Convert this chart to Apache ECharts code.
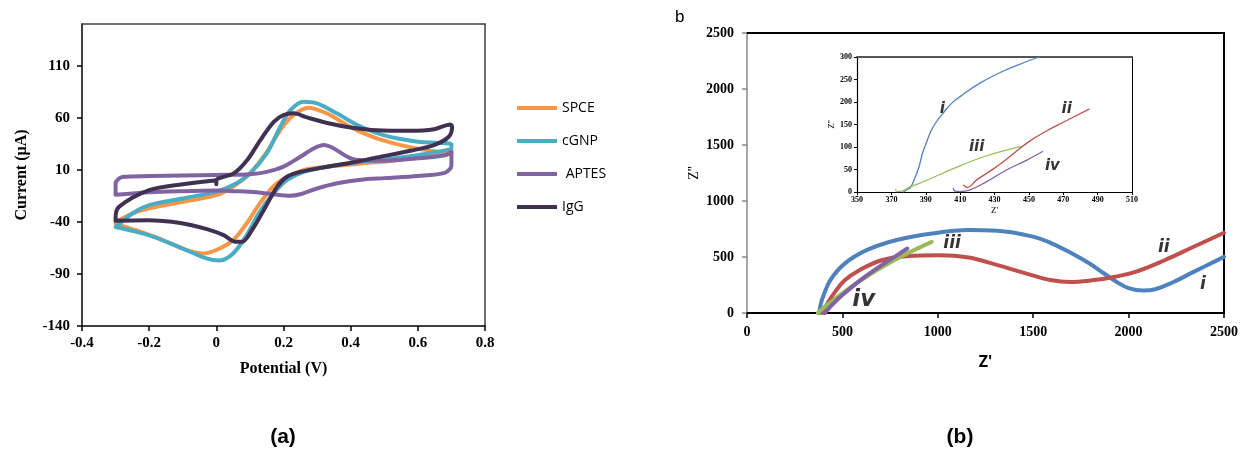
<!DOCTYPE html>
<html><head><meta charset="utf-8">
<script src="https://cdn.jsdelivr.net/npm/echarts@6/dist/echarts.min.js"></script>
<style>html,body{margin:0;padding:0;background:#fff}#c{width:1241px;height:450px}</style>
</head><body><div id="c"></div>
<script>
// ---------- Panel (a): cyclic voltammograms [Potential (V), Current (uA)] ----------
const cvNames = ['SPCE', 'cGNP', 'APTES', 'IgG'];
const cvColors = ['#F79646', '#4BACC6', '#8064A2', '#403152'];
const spce = [[-0.3,-40],[-0.25,-32],[-0.2,-27],[-0.1,-20.8],[0,-14.4],[0.05,-6],[0.1,6.5],[0.15,27],[0.19,48],[0.23,62.6],[0.275,69.6],[0.33,64],[0.4,51],[0.48,40],[0.58,31.5],[0.68,27],[0.7,29],
  [0.7,25.7],[0.63,23],[0.53,19],[0.43,16],[0.33,13],[0.26,9.7],[0.21,3],[0.17,-6],[0.13,-22],[0.09,-41.6],[0.05,-57.6],[0,-67],[-0.04,-70.4],[-0.09,-67],[-0.17,-56],[-0.24,-48],[-0.3,-41.6]];
const cgnp = [[-0.3,-45],[-0.25,-32],[-0.2,-24],[-0.1,-17.6],[0,-11],[0.05,-4.7],[0.1,6.5],[0.15,25.7],[0.19,51],[0.22,67],[0.26,75.4],[0.3,73.8],[0.36,64],[0.42,53],[0.5,43],[0.6,37],[0.7,34.7],
  [0.7,31.5],[0.63,25.7],[0.53,21],[0.43,17.7],[0.33,13],[0.26,8],[0.21,0],[0.17,-12.8],[0.13,-30],[0.09,-53],[0.05,-70.4],[0.01,-77],[-0.03,-75],[-0.1,-65.6],[-0.2,-53],[-0.3,-45]];
const aptes = [[-0.3,-14],[-0.3,-3],[-0.28,3],[-0.2,4],[-0.1,4.5],[0,5],[0.1,5.8],[0.15,8],[0.2,13],[0.25,22.5],[0.29,30.5],[0.32,33.7],[0.35,30.5],[0.39,22.5],[0.42,19.3],[0.5,18.7],[0.6,21],[0.68,24],[0.7,27],
  [0.7,14],[0.68,7],[0.6,4],[0.5,2],[0.43,0.5],[0.36,-3],[0.3,-8],[0.25,-13.5],[0.22,-15],[0.18,-14],[0.12,-11.5],[0.05,-10.5],[0,-10],[-0.1,-10.5],[-0.2,-11.5],[-0.3,-14]];
const igg = [[0,-4],[0,0],[0.052,6.5],[0.092,19.3],[0.131,38.5],[0.171,56],[0.2,62.6],[0.23,64.2],[0.27,60.3],[0.33,55],[0.4,50.7],[0.479,48],[0.578,47.5],[0.648,49],[0.697,53.6],
  [0.702,51.3],[0.692,41.7],[0.648,33.7],[0.578,28.3],[0.479,21.9],[0.4,16.7],[0.33,12.9],[0.25,8],[0.21,3.3],[0.181,-6.3],[0.141,-28.8],[0.106,-48],[0.077,-59.2],[0.057,-59.2],[0.022,-52.8],[-0.028,-47],[-0.107,-41],[-0.206,-38.4],[-0.3,-39],
  [-0.3,-36],[-0.29,-25.6],[-0.2,-9.5],[-0.1,-3.8],[0,0]];
const cvX = { min: -0.4, max: 0.8, step: 0.2 };
const cvY = { min: -140, max: 150, step: 50 };

// ---------- Panel (b): Nyquist plots [Z', Z''] ----------
const eisNames = ['i', 'ii', 'iii', 'iv'];
const eisColors = ['#4F81BD', '#C0504D', '#9BBB59', '#8064A2'];
const eisI = [[379,0],[381,30],[388,90],[398,143],[436,292],[512,441],[627,561],[779,650],[970,710],[1160,740],[1313,734],[1503,680],[1599,620],[1694,540],[1789,448],[1870,355],[1940,275],[2000,222],[2075,200],[2140,212],[2227,270],[2341,367],[2500,501]];
const eisII = [[395,0],[420,80],[455,173],[512,292],[589,382],[705,471],[838,507],[1010,516],[1162,495],[1313,427],[1465,352],[1599,292],[1694,277],[1808,292],[1922,322],[2036,367],[2189,471],[2341,591],[2500,716]];
const eisIII = [[372,0],[400,45],[450,110],[551,240],[650,350],[750,450],[850,540],[968,635]];
const eisIV = [[408,0],[420,25],[450,80],[500,160],[600,300],[700,420],[800,530],[840,576]];
const eisX = { min: 0, max: 2500, step: 500 };
const eisY = { min: 0, max: 2500, step: 500 };
const mainLabels = [['i',2390,257,17],['ii',2184,585,17],['iii',1075,620,17],['iv',612,119,23]];

// inset (zoom of the origin region)
const insI = [[377,0],[379,5],[381,10],[383,25],[386,55],[388,85],[390.4,110],[393,135],[396,155],[400,175],[405,197],[410,212],[421.5,242],[437,272],[448.8,290],[456,300]];
const insII = [[412,15],[413.5,11],[414,10],[420,28],[430,53],[440,82],[450,112],[460,135],[470,155],[485,184]];
const insIII = [[372.5,6],[373,1],[376,2],[380,10],[390,25],[406,52],[425,80],[445,101]];
const insIV = [[406,8],[407,2],[410,1],[415.7,4.5],[425.4,23],[437,49],[448.8,71],[458,90]];
const insX = { min: 350, max: 510, step: 20 };
const insY = { min: 0, max: 300, step: 50 };
const insetLabels = [['i',399.6,184],['ii',472,184],['iii',419.6,99.5],['iv',463.7,58]];

const serif = 'Liberation Serif';
const plain = v => String(v);
function frameAxis(grid, pos, color, width) {
  return { gridIndex: grid, type: 'value', position: pos, min: 0, max: 1,
    axisLine: { show: true, onZero: false, lineStyle: { color: color, width: width } },
    axisTick: { show: false }, axisLabel: { show: false }, splitLine: { show: false } };
}
function valAxis(grid, r, o) {
  return Object.assign({ gridIndex: grid, type: 'value', min: r.min, max: r.max, interval: r.step,
    splitLine: { show: false } }, o);
}

const chart = echarts.init(document.getElementById('c'), null, { renderer: 'canvas' });
const lineS = (name, data, color, xi, w, smooth) => ({
  type: 'line', name: name, data: data, xAxisIndex: xi, yAxisIndex: xi, symbol: 'none',
  smooth: smooth, lineStyle: { color: color, width: w, cap: 'round', join: 'round' },
  itemStyle: { color: color }, animation: false, silent: true, clip: true
});
const labelS = (arr, xi, size) => ({
  type: 'scatter', xAxisIndex: xi, yAxisIndex: xi, symbolSize: 1, silent: true, animation: false,
  itemStyle: { color: 'rgba(0,0,0,0)' },
  data: arr.map(a => ({ value: [a[1], a[2]], name: a[0], label: { fontSize: a[3] || size } })),
  label: { show: true, position: 'inside', formatter: p => p.name, color: '#000',
    fontFamily: 'DejaVu Sans', fontWeight: 'bold', fontStyle: 'italic', fontSize: size }
});

const option = {
  backgroundColor: '#fff',
  animation: false,
  grid: [
    { left: 82, top: 24, width: 403, height: 302 },
    { left: 747, top: 33, width: 477, height: 280 },
    { left: 857, top: 57, width: 275, height: 135 }
  ],
  legend: {
    data: cvNames, orient: 'vertical', left: 512, top: 95, icon: 'rect',
    itemWidth: 40, itemHeight: 4, itemGap: 17,
    formatter: n => n === 'APTES' ? ' APTES' : n,
    textStyle: { fontFamily: 'Open Sans', fontSize: 14, color: '#000', lineHeight: 16 }
  },
  xAxis: [
    valAxis(0, cvX, {
      position: 'bottom',
      axisLine: { show: true, onZero: false, lineStyle: { color: '#000', width: 1.5 } },
      axisTick: { show: true, length: 5, lineStyle: { color: '#000', width: 1.5 } },
      axisLabel: { margin: 10, color: '#000', fontFamily: serif, fontWeight: 'bold', fontSize: 15,
        formatter: v => String(+(+v).toFixed(1)) },
      name: 'Potential (V)', nameLocation: 'middle', nameGap: 35,
      nameTextStyle: { fontFamily: serif, fontWeight: 'bold', fontSize: 16, color: '#000' }
    }),
    frameAxis(0, 'top', '#404040', 1.5),
    valAxis(1, eisX, {
      position: 'bottom',
      axisLine: { show: true, onZero: false, lineStyle: { color: '#000', width: 2 } },
      axisTick: { show: true, length: 5, lineStyle: { color: '#000', width: 1.5 } },
      axisLabel: { margin: 12, color: '#000', fontFamily: serif, fontWeight: 'bold', fontSize: 14, formatter: plain },
      name: "Z'", nameLocation: 'middle', nameGap: 41,
      nameTextStyle: { fontFamily: 'Open Sans', fontWeight: 'bold', fontSize: 16, color: '#000' }
    }),
    frameAxis(1, 'top', '#000', 2),
    valAxis(2, insX, {
      position: 'bottom',
      axisLine: { show: true, onZero: false, lineStyle: { color: '#000', width: 1.2 } },
      axisTick: { show: true, length: 3, lineStyle: { color: '#000', width: 1 } },
      axisLabel: { margin: 4, color: '#000', fontFamily: serif, fontWeight: 'bold', fontSize: 8, formatter: plain },
      name: "Z'", nameLocation: 'middle', nameGap: 14,
      nameTextStyle: { fontFamily: serif, fontSize: 9, color: '#000' }
    }),
    frameAxis(2, 'top', '#555', 2)
  ],
  yAxis: [
    valAxis(0, cvY, {
      position: 'left',
      axisLine: { show: true, onZero: false, lineStyle: { color: '#000', width: 1.5 } },
      axisTick: { show: true, length: 5, lineStyle: { color: '#000', width: 1.5 } },
      axisLabel: { margin: 12, color: '#000', fontFamily: serif, fontWeight: 'bold', fontSize: 15, showMaxLabel: false },
      name: 'Current (µA)', nameLocation: 'middle', nameGap: 52,
      nameTextStyle: { fontFamily: serif, fontWeight: 'bold', fontSize: 16, color: '#000' }
    }),
    frameAxis(0, 'right', '#404040', 1.5),
    valAxis(1, eisY, {
      position: 'left',
      axisLine: { show: true, onZero: false, lineStyle: { color: '#888', width: 1.5 } },
      axisTick: { show: true, length: 5, lineStyle: { color: '#888', width: 1.5 } },
      axisLabel: { margin: 13, color: '#000', fontFamily: serif, fontWeight: 'bold', fontSize: 14, formatter: plain },
      name: "Z''", nameLocation: 'middle', nameGap: 46,
      nameTextStyle: { fontFamily: serif, fontSize: 14, color: '#000' }
    }),
    frameAxis(1, 'right', '#000', 2),
    valAxis(2, insY, {
      position: 'left',
      axisLine: { show: true, onZero: false, lineStyle: { color: '#000', width: 1.2 } },
      axisTick: { show: true, length: 3, lineStyle: { color: '#000', width: 1 } },
      axisLabel: { margin: 5, color: '#000', fontFamily: serif, fontWeight: 'bold', fontSize: 8, formatter: plain },
      name: "Z''", nameLocation: 'middle', nameGap: 20,
      nameTextStyle: { fontFamily: serif, fontSize: 9, color: '#000' }
    }),
    frameAxis(2, 'right', '#000', 1)
  ],
  series: [
    lineS(cvNames[0], spce, cvColors[0], 0, 4, 0.3),
    lineS(cvNames[1], cgnp, cvColors[1], 0, 4, 0.3),
    lineS(cvNames[2], aptes, cvColors[2], 0, 4, 0.3),
    lineS(cvNames[3], igg, cvColors[3], 0, 4, 0.3),
    lineS('eis-' + eisNames[0], eisI, eisColors[0], 2, 4, 0.4),
    lineS('eis-' + eisNames[1], eisII, eisColors[1], 2, 4, 0.4),
    lineS('eis-' + eisNames[2], eisIII, eisColors[2], 2, 4, 0.4),
    lineS('eis-' + eisNames[3], eisIV, eisColors[3], 2, 4, 0.4),
    lineS('ins-' + eisNames[0], insI, eisColors[0], 4, 1.3, 0.4),
    lineS('ins-' + eisNames[1], insII, eisColors[1], 4, 1.3, 0.4),
    lineS('ins-' + eisNames[2], insIII, eisColors[2], 4, 1.3, 0.4),
    lineS('ins-' + eisNames[3], insIV, eisColors[3], 4, 1.3, 0.4),
    labelS(mainLabels, 2, 17),
    labelS(insetLabels, 4, 15)
  ],
  graphic: [
    { type: 'text', left: 675, top: 9, style: { text: 'b', fontFamily: 'Liberation Sans', fontSize: 17, fill: '#000' } },
    { type: 'text', x: 283, y: 437, style: { text: '(a)', fontFamily: 'Liberation Sans', fontWeight: 'bold', fontSize: 21, fill: '#000', align: 'center', verticalAlign: 'middle' } },
    { type: 'text', x: 960, y: 437, style: { text: '(b)', fontFamily: 'Liberation Sans', fontWeight: 'bold', fontSize: 21, fill: '#000', align: 'center', verticalAlign: 'middle' } }
  ]
};
chart.setOption(option);
</script></body></html>
